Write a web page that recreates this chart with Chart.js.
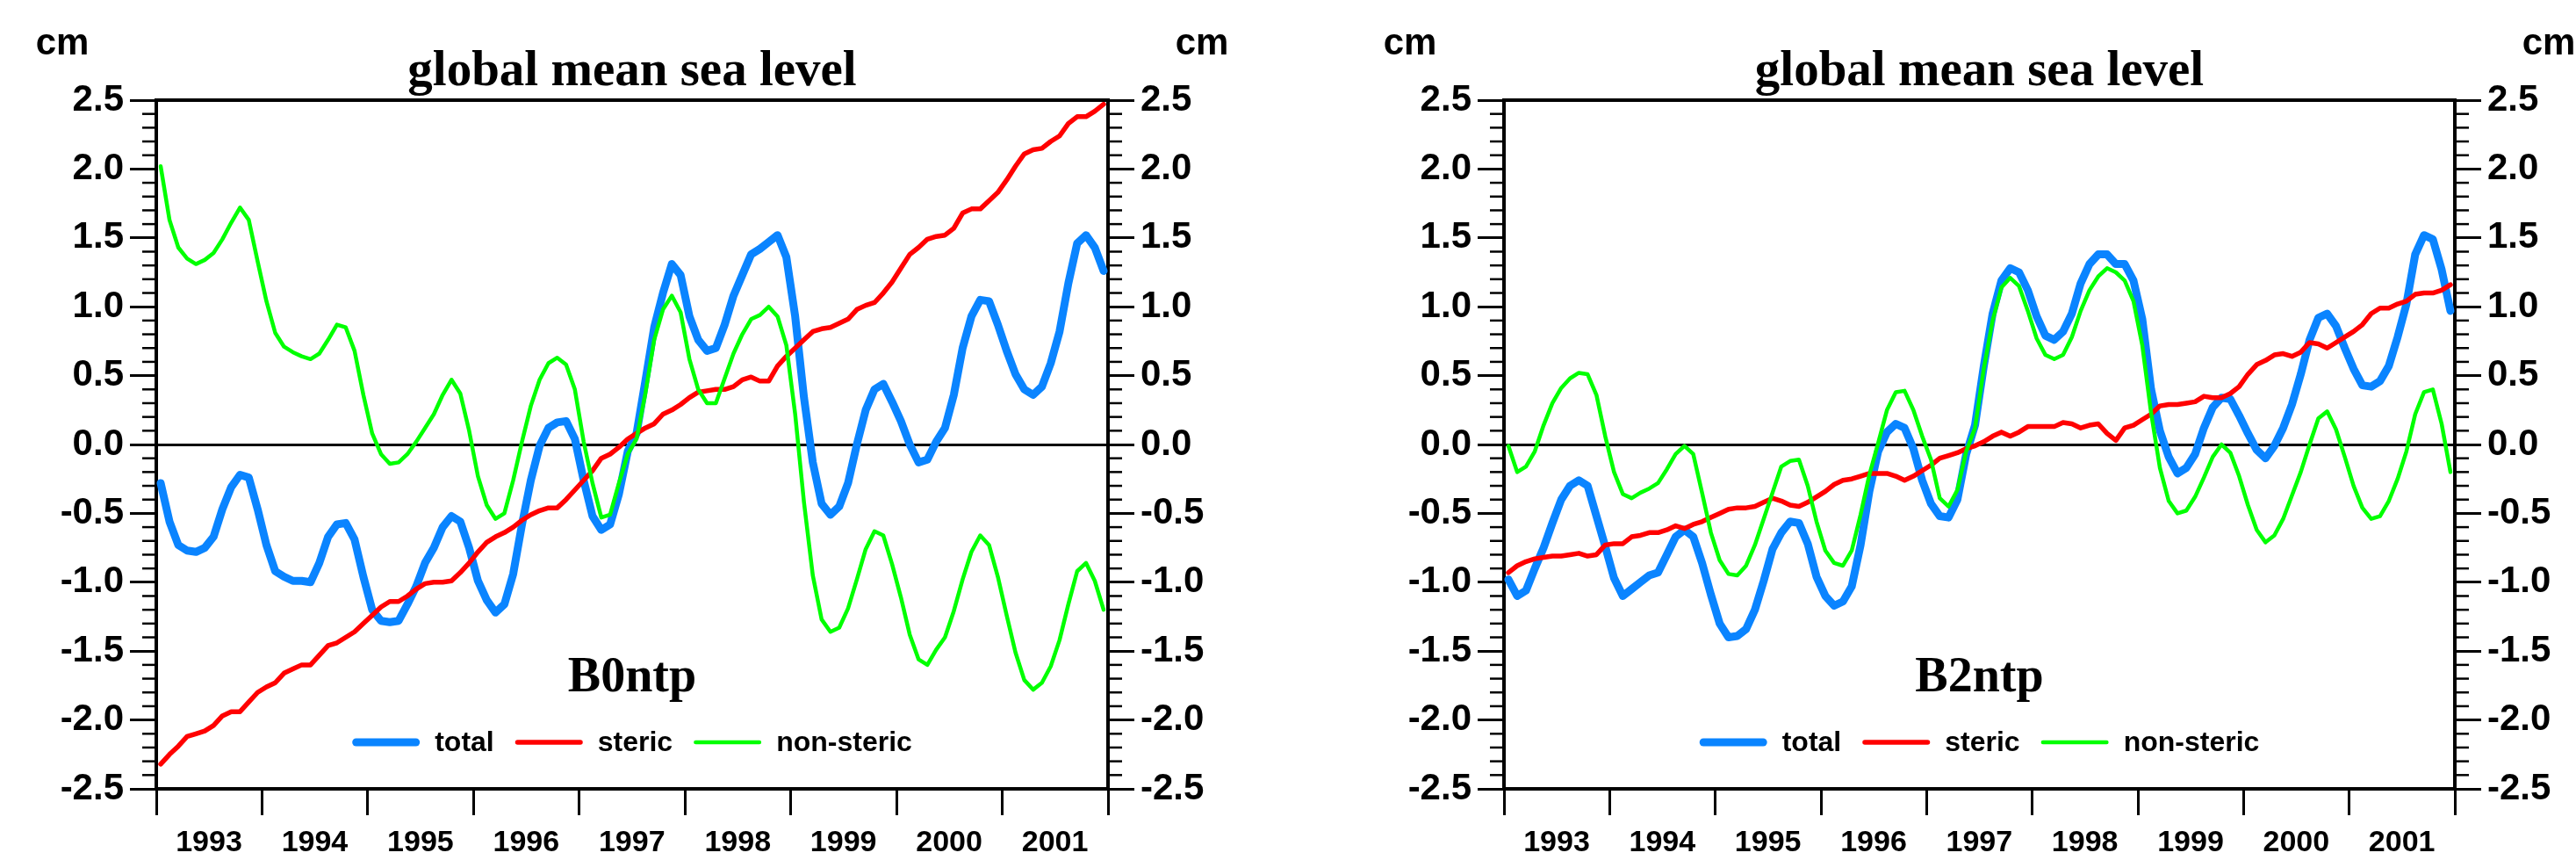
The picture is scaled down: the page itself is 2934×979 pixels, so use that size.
<!DOCTYPE html>
<html>
<head>
<meta charset="utf-8">
<title>global mean sea level</title>
<script src="https://cdn.jsdelivr.net/npm/chart.js@4.4.1/dist/chart.umd.min.js"></script>
<style>
  html, body { margin: 0; padding: 0; background: #fff; }
  body { width: 2934px; height: 979px; position: relative; overflow: hidden; }
  .panel { position: absolute; top: 0; width: 1467px; height: 979px; }
  #leftPanel { left: 0; }
  #rightPanel { left: 1467px; }
</style>
</head>
<body>
<div class="panel" id="leftPanel"><canvas id="chartB0" width="1467" height="979"></canvas></div>
<div class="panel" id="rightPanel"><canvas id="chartB2" width="1467" height="979"></canvas></div>
<script>
// x axis: one label per year, monthly values (mid-month) from Jan 1993 to Dec 2001
const years = ['1993', '1994', '1995', '1996', '1997', '1998', '1999', '2000', '2001'];
const seriesLabels = ['total', 'steric', 'non-steric'];
const unitLabel = 'cm';
const chartTitle = 'global mean sea level';

// B0ntp run (left panel), cm
const b0Total = [
  -0.28, -0.56, -0.73, -0.77, -0.78, -0.75, -0.67, -0.47, -0.31, -0.22, -0.24, -0.47,
  -0.73, -0.92, -0.96, -0.99, -0.99, -1.00, -0.86, -0.67, -0.58, -0.57, -0.69, -0.96,
  -1.20, -1.28, -1.29, -1.28, -1.16, -1.03, -0.86, -0.75, -0.60, -0.52, -0.56, -0.75,
  -0.99, -1.13, -1.22, -1.16, -0.94, -0.58, -0.26, -0.01, 0.12, 0.16, 0.17, 0.04,
  -0.26, -0.52, -0.62, -0.58, -0.36, -0.05, 0.08, 0.46, 0.85, 1.10, 1.31, 1.23,
  0.93, 0.76, 0.68, 0.70, 0.87, 1.08, 1.23, 1.38, 1.42, 1.47, 1.52, 1.36,
  0.93, 0.34, -0.13, -0.43, -0.51, -0.45, -0.28, 0.00, 0.25, 0.40, 0.44, 0.31,
  0.17, 0.00, -0.13, -0.11, 0.02, 0.12, 0.36, 0.70, 0.93, 1.05, 1.04, 0.87,
  0.68, 0.51, 0.40, 0.36, 0.42, 0.59, 0.82, 1.17, 1.46, 1.52, 1.43, 1.26
];
const b0Steric = [
  -2.32, -2.25, -2.19, -2.12, -2.10, -2.08, -2.04, -1.97, -1.94, -1.94, -1.87, -1.80,
  -1.76, -1.73, -1.66, -1.63, -1.60, -1.60, -1.53, -1.46, -1.44, -1.40, -1.36, -1.30,
  -1.24, -1.18, -1.14, -1.14, -1.10, -1.05, -1.01, -1.00, -1.00, -0.99, -0.93, -0.86,
  -0.78, -0.71, -0.67, -0.64, -0.60, -0.55, -0.51, -0.48, -0.46, -0.46, -0.40, -0.33,
  -0.26, -0.19, -0.10, -0.07, -0.02, 0.04, 0.08, 0.12, 0.15, 0.22, 0.25, 0.29,
  0.34, 0.38, 0.39, 0.40, 0.40, 0.42, 0.47, 0.49, 0.46, 0.46, 0.57, 0.64,
  0.70, 0.76, 0.82, 0.84, 0.85, 0.88, 0.91, 0.98, 1.01, 1.03, 1.10, 1.18,
  1.28, 1.38, 1.43, 1.49, 1.51, 1.52, 1.57, 1.68, 1.71, 1.71, 1.77, 1.83,
  1.92, 2.02, 2.11, 2.14, 2.15, 2.20, 2.24, 2.33, 2.38, 2.38, 2.42, 2.47
];
const b0NonSteric = [
  2.02, 1.63, 1.43, 1.35, 1.31, 1.34, 1.39, 1.49, 1.61, 1.72, 1.63, 1.33,
  1.04, 0.81, 0.71, 0.67, 0.64, 0.62, 0.66, 0.76, 0.87, 0.85, 0.68, 0.36,
  0.08, -0.07, -0.14, -0.13, -0.07, 0.02, 0.12, 0.22, 0.36, 0.47, 0.37, 0.10,
  -0.23, -0.44, -0.54, -0.50, -0.26, 0.02, 0.28, 0.47, 0.59, 0.63, 0.58, 0.40,
  0.02, -0.28, -0.53, -0.51, -0.28, -0.07, 0.04, 0.37, 0.76, 0.98, 1.08, 0.96,
  0.62, 0.40, 0.30, 0.30, 0.48, 0.66, 0.80, 0.91, 0.94, 1.00, 0.93, 0.72,
  0.22, -0.42, -0.95, -1.27, -1.36, -1.33, -1.19, -0.98, -0.76, -0.63, -0.66, -0.87,
  -1.11, -1.38, -1.56, -1.60, -1.49, -1.40, -1.21, -0.98, -0.78, -0.66, -0.73, -0.96,
  -1.24, -1.51, -1.71, -1.78, -1.73, -1.61, -1.42, -1.16, -0.92, -0.86, -0.99, -1.20
];

// B2ntp run (right panel), cm
const b2Total = [
  -0.98, -1.10, -1.06, -0.90, -0.75, -0.57, -0.40, -0.30, -0.26, -0.30, -0.52, -0.74,
  -0.97, -1.10, -1.05, -1.00, -0.95, -0.93, -0.80, -0.67, -0.62, -0.67, -0.86, -1.09,
  -1.30, -1.40, -1.39, -1.34, -1.20, -0.99, -0.76, -0.64, -0.56, -0.57, -0.72, -0.96,
  -1.10, -1.17, -1.14, -1.03, -0.73, -0.34, -0.05, 0.09, 0.15, 0.12, -0.03, -0.26,
  -0.43, -0.52, -0.53, -0.40, -0.07, 0.14, 0.57, 0.95, 1.19, 1.28, 1.25, 1.12,
  0.93, 0.79, 0.76, 0.82, 0.95, 1.17, 1.31, 1.38, 1.38, 1.31, 1.31, 1.19,
  0.91, 0.40, 0.10, -0.09, -0.21, -0.17, -0.07, 0.12, 0.27, 0.34, 0.33, 0.21,
  0.08, -0.04, -0.10, -0.01, 0.12, 0.29, 0.51, 0.76, 0.92, 0.95, 0.86, 0.70,
  0.55, 0.43, 0.42, 0.46, 0.57, 0.78, 1.02, 1.38, 1.52, 1.49, 1.27, 0.97
];
const b2Steric = [
  -0.93, -0.88, -0.85, -0.83, -0.82, -0.81, -0.81, -0.80, -0.79, -0.81, -0.80, -0.73,
  -0.72, -0.72, -0.67, -0.66, -0.64, -0.64, -0.62, -0.59, -0.61, -0.58, -0.56, -0.53,
  -0.50, -0.47, -0.46, -0.46, -0.45, -0.42, -0.39, -0.41, -0.44, -0.45, -0.42, -0.38,
  -0.34, -0.29, -0.26, -0.25, -0.23, -0.21, -0.21, -0.21, -0.23, -0.26, -0.23, -0.19,
  -0.15, -0.10, -0.08, -0.06, -0.03, -0.01, 0.02, 0.06, 0.09, 0.06, 0.09, 0.13,
  0.13, 0.13, 0.13, 0.16, 0.15, 0.12, 0.14, 0.15, 0.08, 0.03, 0.12, 0.14,
  0.18, 0.22, 0.28, 0.29, 0.29, 0.30, 0.31, 0.35, 0.34, 0.34, 0.37, 0.42,
  0.51, 0.58, 0.61, 0.65, 0.66, 0.64, 0.67, 0.74, 0.73, 0.70, 0.74, 0.78,
  0.82, 0.87, 0.95, 0.99, 0.99, 1.02, 1.04, 1.09, 1.10, 1.10, 1.12, 1.16
];
const b2NonSteric = [
  -0.01, -0.20, -0.16, -0.05, 0.14, 0.30, 0.41, 0.48, 0.52, 0.51, 0.36, 0.06,
  -0.20, -0.36, -0.39, -0.35, -0.32, -0.28, -0.18, -0.07, -0.01, -0.07, -0.35, -0.64,
  -0.84, -0.94, -0.95, -0.88, -0.73, -0.54, -0.35, -0.16, -0.12, -0.11, -0.30, -0.56,
  -0.77, -0.86, -0.88, -0.77, -0.51, -0.22, 0.01, 0.25, 0.38, 0.39, 0.25, 0.06,
  -0.11, -0.39, -0.45, -0.33, -0.05, 0.12, 0.55, 0.90, 1.14, 1.21, 1.15, 0.97,
  0.77, 0.65, 0.62, 0.65, 0.78, 0.97, 1.12, 1.22, 1.28, 1.25, 1.19, 1.04,
  0.72, 0.23, -0.17, -0.41, -0.50, -0.48, -0.38, -0.24, -0.09, 0.00, -0.06, -0.23,
  -0.44, -0.62, -0.71, -0.66, -0.54, -0.37, -0.20, 0.00, 0.19, 0.24, 0.11, -0.09,
  -0.30, -0.46, -0.54, -0.52, -0.41, -0.25, -0.05, 0.22, 0.38, 0.40, 0.15, -0.20
];

const firstYear = Number(years[0]);
const lastYear = firstYear + years.length;
// decimal year at the middle of each month
const months = b0Total.map((_, i) => firstYear + (i + 0.5) / 12);

const SANS = '"Liberation Sans", Arial, sans-serif';
const SERIF = '"Liberation Serif", "Times New Roman", serif';

// minor ticks, top frame, title, unit labels, run name and legend
const decorPlugin = {
  id: 'decor',
  afterDraw(chart) {
    const ctx = chart.ctx;
    const area = chart.chartArea;
    const midX = (area.left + area.right) / 2;
    ctx.save();
    ctx.strokeStyle = '#000';

    // minor ticks every 0.1 cm, pointing outwards
    ['y', 'y2'].forEach(id => {
      const s = chart.scales[id];
      const edge = s.position === 'left' ? s.right : s.left;
      const dir = s.position === 'left' ? -1 : 1;
      ctx.lineWidth = 2.5;
      for (let k = -25; k <= 25; k++) {
        if (k % 5 === 0) continue;
        const py = s.getPixelForValue(k / 10);
        ctx.beginPath();
        ctx.moveTo(edge, py);
        ctx.lineTo(edge + dir * 16, py);
        ctx.stroke();
      }
    });

    // top frame
    ctx.lineWidth = 4;
    ctx.beginPath();
    ctx.moveTo(area.left, area.top);
    ctx.lineTo(area.right, area.top);
    ctx.stroke();

    ctx.fillStyle = '#000';
    ctx.textAlign = 'center';
    ctx.textBaseline = 'alphabetic';

    ctx.font = 'bold 57px ' + SERIF;
    ctx.fillText(chartTitle, midX, area.top - 17);

    ctx.font = 'bold 42px ' + SANS;
    ctx.fillText(unitLabel, area.left - 107, area.top - 52);
    ctx.fillText(unitLabel, area.right + 107, area.top - 52);

    ctx.font = 'bold 56px ' + SERIF;
    ctx.fillText(chart.options.plugins.decor.runName, midX, area.bottom - 111);

    // legend
    const lineLen = 77, gapLine = 17, gapItem = 24;
    const ly = area.bottom - 53;
    ctx.font = 'bold 32px ' + SANS;
    const items = chart.data.datasets.map(ds => ({
      label: ds.label, color: ds.borderColor, width: ds.borderWidth,
      tw: ctx.measureText(ds.label).width
    }));
    const total = items.reduce((s, it) => s + lineLen + gapLine + it.tw, 0) + gapItem * (items.length - 1);
    let x = midX - total / 2;
    ctx.textAlign = 'left';
    ctx.textBaseline = 'middle';
    items.forEach(it => {
      ctx.strokeStyle = it.color;
      ctx.lineWidth = it.width;
      ctx.lineCap = 'round';
      ctx.beginPath();
      ctx.moveTo(x + it.width / 2, ly);
      ctx.lineTo(x + lineLen - it.width / 2, ly);
      ctx.stroke();
      x += lineLen + gapLine;
      ctx.fillText(it.label, x, ly + 1);
      x += it.tw + gapItem;
    });
    ctx.restore();
  }
};

function yLabel(v) {
  return (Math.round(v * 10) / 10).toFixed(1);
}

function yAxis(position, width) {
  return {
    type: 'linear',
    position: position,
    min: -2.5,
    max: 2.5,
    afterFit: s => { s.width = width; },
    ticks: {
      stepSize: 0.5,
      padding: 7,
      color: '#000',
      font: { family: SANS, size: 42, weight: 'bold' },
      callback: yLabel
    },
    grid: {
      drawOnChartArea: position === 'left',
      color: c => (c.tick && Math.abs(c.tick.value) < 1e-9 ? '#000' : 'rgba(0,0,0,0)'),
      lineWidth: 3,
      tickLength: 30,
      tickWidth: 3,
      tickColor: '#000'
    },
    border: { display: true, color: '#000', width: 4 }
  };
}

function makeChart(canvasId, runName, total, steric, nonSteric, leftWidth, rightWidth) {
  const values = [total, steric, nonSteric];
  const colors = ['#0a84ff', '#ff0000', '#00ff00'];
  const widths = [9, 5.5, 4.5];
  return new Chart(document.getElementById(canvasId), {
    type: 'line',
    data: {
      datasets: seriesLabels.map((label, k) => ({
        label: label,
        data: values[k].map((v, i) => ({ x: months[i], y: v })),
        borderColor: colors[k],
        borderWidth: widths[k],
        pointRadius: 0,
        tension: 0,
        fill: false,
        borderJoinStyle: 'round',
        borderCapStyle: 'round',
        order: 3 - k
      }))
    },
    options: {
      responsive: false,
      animation: false,
      devicePixelRatio: 1,
      layout: { padding: { top: 114, left: 0, right: 0, bottom: 0 } },
      plugins: {
        legend: { display: false },
        tooltip: { enabled: false },
        title: { display: false },
        decor: { runName: runName }
      },
      scales: {
        x: {
          type: 'linear',
          position: 'bottom',
          min: firstYear,
          max: lastYear,
          afterFit: s => { s.height = 81; },
          ticks: {
            stepSize: 1,
            autoSkip: false,
            maxRotation: 0,
            padding: 11,
            labelOffset: 60,
            color: '#000',
            font: { family: SANS, size: 34, weight: 'bold' },
            callback: v => years[v - firstYear] || ''
          },
          grid: {
            drawOnChartArea: false,
            tickLength: 30,
            tickWidth: 3,
            tickColor: '#000'
          },
          border: { display: true, color: '#000', width: 4 }
        },
        y: yAxis('left', leftWidth),
        y2: yAxis('right', rightWidth)
      }
    },
    plugins: [decorPlugin]
  });
}

makeChart('chartB0', 'B0ntp', b0Total, b0Steric, b0NonSteric, 178, 205);
makeChart('chartB2', 'B2ntp', b2Total, b2Steric, b2NonSteric, 246, 138);
</script>
</body>
</html>
